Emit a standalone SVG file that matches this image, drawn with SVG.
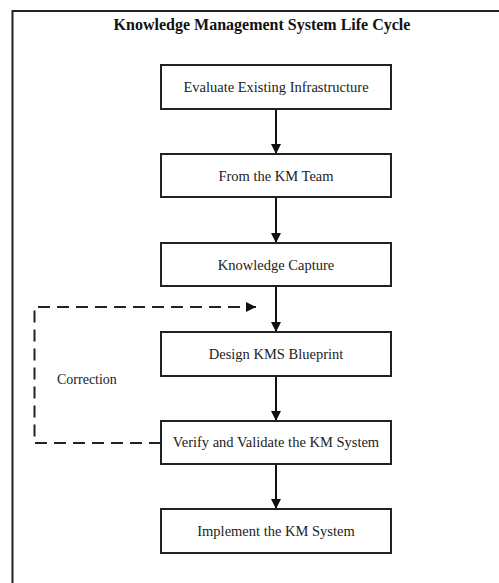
<svg xmlns="http://www.w3.org/2000/svg" width="499" height="583" viewBox="0 0 499 583">
<style>
.box{fill:#fff;stroke:#222;stroke-width:2}
.t{font-family:"Liberation Serif","Times New Roman",serif;font-size:14.5px;fill:#222;text-anchor:middle}
.c{stroke:#111;stroke-width:2;fill:none}
.d{stroke:#222;stroke-width:2;fill:none;stroke-dasharray:12 7}
</style>
<defs>
<marker id="ah" viewBox="0 0 10 10" refX="10" refY="5" markerWidth="10" markerHeight="10" markerUnits="userSpaceOnUse" orient="auto">
<path d="M0,0 L10,5 L0,10 Z" fill="#111"/>
</marker>
</defs>
<rect width="499" height="583" fill="#fff"/>
<path d="M12.5,583 V11 H499" fill="none" stroke="#222" stroke-width="2"/>
<text x="262" y="30" font-family="'Liberation Serif','Times New Roman',serif" font-size="16" font-weight="bold" text-anchor="middle" fill="#111">Knowledge Management System Life Cycle</text>
<g id="connectors">
<line class="c" x1="276" y1="109" x2="276" y2="154" marker-end="url(#ah)"/>
<line class="c" x1="276" y1="197" x2="276" y2="243" marker-end="url(#ah)"/>
<line class="c" x1="276" y1="286" x2="276" y2="332" marker-end="url(#ah)"/>
<line class="c" x1="276" y1="376" x2="276" y2="421" marker-end="url(#ah)"/>
<line class="c" x1="276" y1="464" x2="276" y2="509" marker-end="url(#ah)"/>
<path class="d" d="M161,443 H34.5 V307 H256" marker-end="url(#ah)"/>
<text x="57" y="384" font-family="'Liberation Serif','Times New Roman',serif" font-size="14" fill="#222">Correction</text>
</g>
<g id="n1"><rect class="box" x="161" y="65" width="230" height="44"/><text class="t" x="276" y="92">Evaluate Existing Infrastructure</text></g>
<g id="n2"><rect class="box" x="161" y="154" width="230" height="43"/><text class="t" x="276" y="181">From the KM Team</text></g>
<g id="n3"><rect class="box" x="161" y="243" width="230" height="43"/><text class="t" x="276" y="270">Knowledge Capture</text></g>
<g id="n4"><rect class="box" x="161" y="332" width="230" height="44"/><text class="t" x="276" y="359">Design KMS Blueprint</text></g>
<g id="n5"><rect class="box" x="161" y="421" width="230" height="43"/><text class="t" x="276" y="447">Verify and Validate the KM System</text></g>
<g id="n6"><rect class="box" x="161" y="509" width="230" height="44"/><text class="t" x="276" y="536">Implement the KM System</text></g>
</svg>
